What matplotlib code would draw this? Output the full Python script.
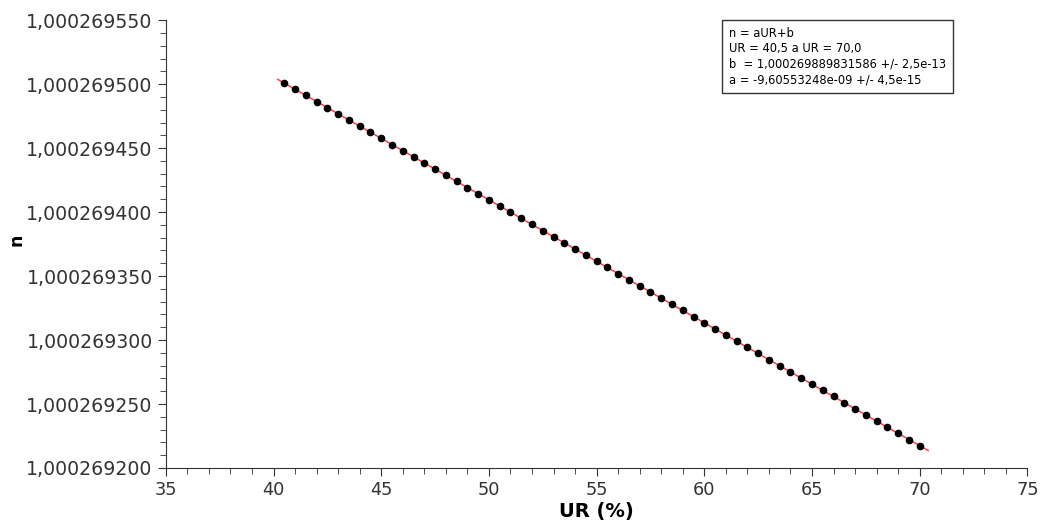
import numpy as np
import matplotlib.pyplot as plt
from matplotlib.ticker import MultipleLocator, FuncFormatter

# UR (%) e índice de refração n (n = base + desvio*1e-9)
ur = [40.5, 41.0, 41.5, 42.0, 42.5, 43.0, 43.5, 44.0, 44.5, 45.0,
      45.5, 46.0, 46.5, 47.0, 47.5, 48.0, 48.5, 49.0, 49.5, 50.0,
      50.5, 51.0, 51.5, 52.0, 52.5, 53.0, 53.5, 54.0, 54.5, 55.0,
      55.5, 56.0, 56.5, 57.0, 57.5, 58.0, 58.5, 59.0, 59.5, 60.0,
      60.5, 61.0, 61.5, 62.0, 62.5, 63.0, 63.5, 64.0, 64.5, 65.0,
      65.5, 66.0, 66.5, 67.0, 67.5, 68.0, 68.5, 69.0, 69.5, 70.0]
n_base = 1.0002692
n_desvio = [300.81, 296.00, 291.20, 286.40, 281.60, 276.79, 271.99, 267.19, 262.38, 257.58,
            252.78, 247.97, 243.17, 238.37, 233.56, 228.76, 223.96, 219.16, 214.35, 209.55,
            204.75, 199.94, 195.14, 190.34, 185.53, 180.73, 175.93, 171.13, 166.32, 161.52,
            156.72, 151.92, 147.11, 142.31, 137.51, 132.70, 127.90, 123.10, 118.29, 113.50,
            108.70, 103.89, 99.09, 94.29, 89.48, 84.68, 79.88, 75.08, 70.27, 65.47,
            60.67, 55.87, 51.06, 46.26, 41.46, 36.65, 31.85, 27.05, 22.24, 17.44]

# parametros do ajuste (caixa de texto)
b = 1.000269889831586
a = -9.60553248e-09
texto = ("n = aUR+b\n"
         "UR = 40,5 a UR = 70,0\n"
         "b  = 1,000269889831586 +/- 2,5e-13\n"
         "a = -9,60553248e-09 +/- 4,5e-15")

n = [n_base + d * 1e-9 for d in n_desvio]

cinza = '#333333'
fig = plt.figure(figsize=(10.43, 5.25), dpi=100)
ax = fig.add_axes([0.159, 0.1086, 0.826, 0.853])

x_fit = np.array([40.2, 70.4])
ax.plot(x_fit, a * x_fit + b, color='#ff4040', lw=1.1, zorder=1)
ax.plot(ur, n, 'o', color='black', markersize=4.5, zorder=2)

ax.set_xlim(35, 75)
ax.set_ylim(1.0002692, 1.00026955)
ax.xaxis.set_major_locator(MultipleLocator(5))
ax.xaxis.set_minor_locator(MultipleLocator(1))
ax.yaxis.set_major_locator(MultipleLocator(50e-9))
ax.yaxis.set_minor_locator(MultipleLocator(10e-9))
ax.yaxis.set_major_formatter(FuncFormatter(lambda v, p: ('%.9f' % v).replace('.', ',')))

for s in ['top', 'right']:
	ax.spines[s].set_visible(False)
for s in ['left', 'bottom']:
	ax.spines[s].set_color(cinza)
ax.tick_params(which='major', length=6, color=cinza, labelcolor=cinza)
ax.tick_params(axis='y', which='major', labelsize=13.6)
ax.tick_params(axis='x', which='major', labelsize=12.8)
ax.tick_params(which='minor', length=4, color=cinza)

ax.set_xlabel('UR (%)', fontsize=14, fontweight='bold', labelpad=2)
ax.set_ylabel('n', fontsize=12.5, fontweight='bold')
ax.yaxis.set_label_coords(-0.163, 0.509)

ax.text(0.654, 0.985, texto, transform=ax.transAxes, fontsize=8.3, va='top', ha='left',
        linespacing=1.25,
        bbox=dict(boxstyle='square,pad=0.6', facecolor='white', edgecolor='#333333', lw=1))

fig.savefig('out.png', dpi=100)
